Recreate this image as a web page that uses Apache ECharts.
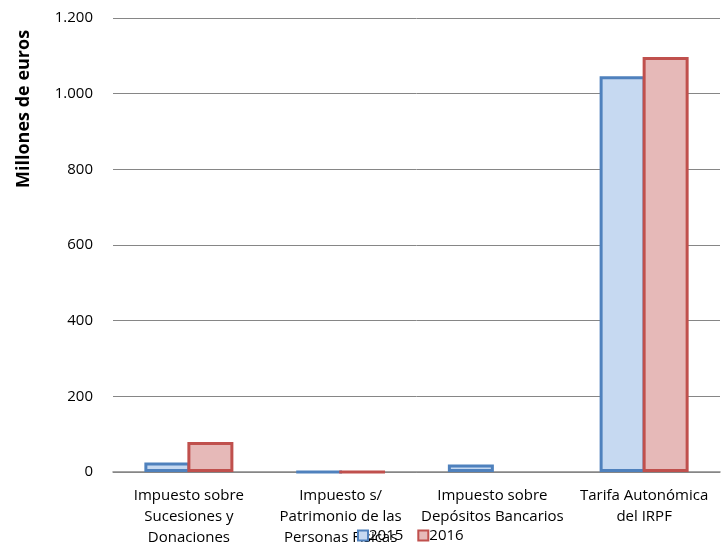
<!DOCTYPE html>
<html><head><meta charset="utf-8">
<script src="https://cdn.jsdelivr.net/npm/echarts@6/dist/echarts.min.js"></script>
<style>html,body{margin:0;padding:0;background:#fff}#c{width:724px;height:548px}</style>
</head><body><div id="c"></div>
<script>
var categories = ["Impuesto sobre\nSucesiones y\nDonaciones", "Impuesto s/\nPatrimonio de las\nPersonas Físicas", "Impuesto sobre\nDepósitos Bancarios", "Tarifa Autonómica\ndel IRPF"];
var values2015 = [25, 0.5, 20, 1046];
var values2016 = [79, 0.5, null, 1097];
var seriesNames = ["2015", "2016"];
var yTicks = {min: 0, max: 1200, interval: 200};

var chart = echarts.init(document.getElementById('c'));
var font = "'Open Sans', 'Liberation Sans', sans-serif";
chart.setOption({
  animation: false,
  textStyle: {fontFamily: font},
  grid: {left: 113, right: 4, top: 18, bottom: 74},
  legend: {
    data: seriesNames, top: 523, left: 352, itemGap: 14,
    itemWidth: 10, itemHeight: 10, icon: 'rect',
    textStyle: {fontSize: 15, color: '#000', fontFamily: font, padding: [0,0,0,-4]}
  },
  graphic: [{
    type: 'text', rotation: Math.PI/2, x: 15, y: 188,
    style: {text: 'Millones de euros', fontSize: 18, fontWeight: 'bold', fill: '#000', fontFamily: font}
  }],
  xAxis: {
    type: 'category', data: categories,
    axisLine: {lineStyle: {color: '#868686', width: 1.5}},
    axisTick: {show: false},
    axisLabel: {color: '#000', fontSize: 15, lineHeight: 21, margin: 13, interval: 0, fontFamily: font}
  },
  yAxis: {
    type: 'value', min: yTicks.min, max: yTicks.max, interval: yTicks.interval,
    axisLine: {show: false}, axisTick: {show: false},
    splitLine: {lineStyle: {color: '#868686', width: 1}},
    axisLabel: {color: '#000', fontSize: 15, margin: 20, fontFamily: font,
      formatter: function(v){ return v >= 1000 ? Math.floor(v/1000) + '.' + String(v%1000).padStart(3,'0') : String(v); }}
  },
  series: [
    {name: seriesNames[0], type: 'bar', data: values2015, barGap: '-6.5%', barWidth: 46,
     itemStyle: {color: '#c6d9f1', borderColor: '#4f81bd', borderWidth: 3}},
    {name: seriesNames[1], type: 'bar', data: values2016, barGap: '-6.5%', barWidth: 46,
     itemStyle: {color: '#e6b9b8', borderColor: '#c0504d', borderWidth: 3}}
  ]
});
</script></body></html>
